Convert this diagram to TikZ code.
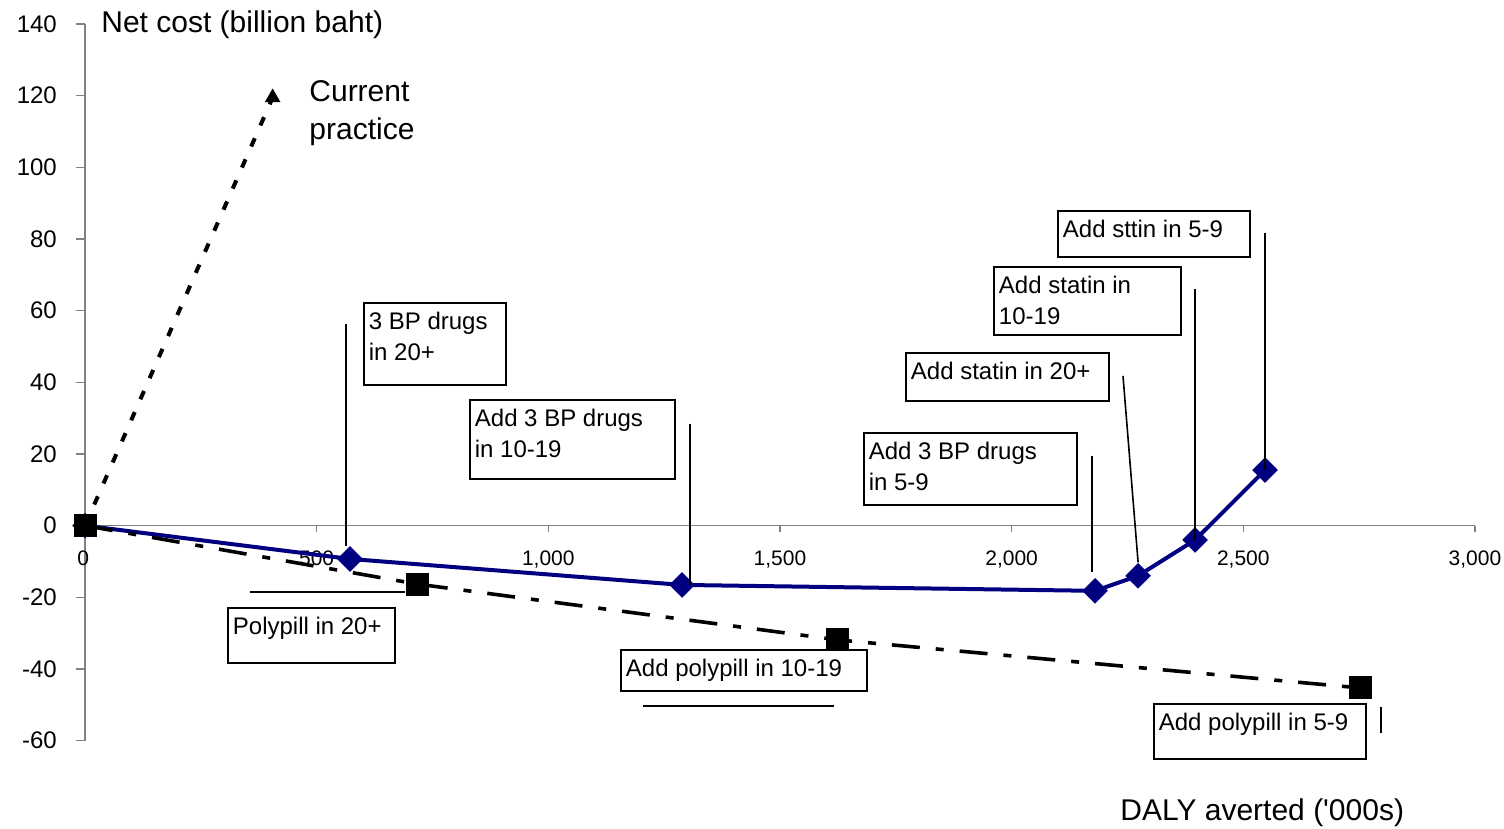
\documentclass[tikz,border=0pt]{standalone}
\usepackage{fontspec}
\setmainfont{Liberation Sans}
\usetikzlibrary{shapes.geometric}
\definecolor{navyline}{RGB}{0,0,128}
\definecolor{axisgray}{RGB}{128,128,128}
\tikzset{
    axisline/.style={draw=axisgray, line width=0.6pt},
    leader/.style={draw=black, line width=0.8pt},
    tagbox/.style={draw=black, line width=0.9pt, anchor=north west, inner xsep=2.5pt, inner ysep=4.5pt, font=\fontsize{12}{15.5}\selectfont},
    bpline/.style={draw=navyline, line width=2pt, line join=round},
    ppline/.style={draw=black, line width=1.8pt, dash pattern=on 14pt off 8pt on 4pt off 8pt},
    curline/.style={draw=black, line width=2pt, dash pattern=on 4.5pt off 7pt},
    bpmark/.style={diamond, fill=navyline, inner sep=0pt, minimum width=13pt, minimum height=13pt},
    ppmark/.style={rectangle, fill=black, inner sep=0pt, minimum size=11.5pt},
    curmark/.style={regular polygon, regular polygon sides=3, fill=black, inner sep=0pt, minimum size=9pt},
    yticklabel/.style={inner sep=0pt, anchor=east, font=\fontsize{12}{14}\selectfont},
    xticklabel/.style={inner sep=0pt, anchor=base, font=\fontsize{10.5}{12}\selectfont},
    axistitle/.style={inner sep=0pt, align=left, font=\fontsize{15}{19}\selectfont}
}
\newcommand{\tagtext}[3]{\parbox[t][#2][t]{#1}{#3}}

\begin{document}
\begin{tikzpicture}[x=0.231667pt, y=1.7915pt]
    \useasboundingbox (-183.5,-84.65) rectangle (3062.8,146.72);

    % axes
    \draw [axisline] (0,0) -- (3000,0);
    \draw [axisline] (0,-60) -- (0,140);
    \foreach \v in {-60,-40,...,140} {
        \draw [axisline] (0,\v) -- ++(-4.5pt,0);
        \node [yticklabel] at (-60,\v) {\v};
    }
    \foreach \v/\t in {500/500, 1000/{1,000}, 1500/{1,500}, 2000/{2,000}, 2500/{2,500}, 3000/{3,000}} {
        \draw [axisline] (\v,0) -- ++(0,-3.25pt);
        \node [xticklabel] at (\v,-11.25) {\t};
    }
    \node [xticklabel] (XZero) at (-4,-11.25) {0};

    % data points
    \coordinate (Bp0) at (0,0);
    \coordinate (Bp1) at (572,-9.3);
    \coordinate (Bp2) at (1288.6,-16.55);
    \coordinate (Bp3) at (2180,-18.2);
    \coordinate (Bp4) at (2273,-14);
    \coordinate (Bp5) at (2396,-4);
    \coordinate (Bp6) at (2547,15.5);
    \coordinate (Pp0) at (0,0);
    \coordinate (Pp1) at (716.6,-16.3);
    \coordinate (Pp2) at (1625,-31.9);
    \coordinate (Pp3) at (2752,-45.3);
    \coordinate (Cur0) at (0,0);
    \coordinate (Cur1) at (405,119.5);

    \draw [bpline] (Bp0) -- (Bp1) -- (Bp2) -- (Bp3) -- (Bp4) -- (Bp5) -- (Bp6);
    \foreach \p in {Bp0,Bp1,Bp2,Bp3,Bp4,Bp5,Bp6}
        \node [bpmark] (\p Mark) at (\p) {};

    \draw [ppline] (Pp0) -- (Pp1) -- (Pp2) -- (Pp3);
    \foreach \p in {Pp0,Pp1,Pp2,Pp3}
        \node [ppmark] (\p Mark) at (\p) {};

    \draw [curline] (Cur0) -- (Cur1);
    \node [curmark] (Cur1Mark) at (Cur1) {};

    % leaders
    \coordinate (BpLead20) at (563,56.3);
    \coordinate (BpLead1019) at (1306,28.4);
    \coordinate (BpLead59) at (2173.5,19.5);
    \coordinate (BpLead59End) at (2173.5,-12.9);
    \coordinate (StLead20) at (2240.4,41.8);
    \coordinate (StLead1019) at (2396,66.1);
    \coordinate (StLead59) at (2547,81.7);
    \coordinate (PpLead20) at (356,-18.5);
    \coordinate (PpLead1019) at (1204,-50.3);
    \coordinate (PpLead1019End) at (1616.6,-50.3);
    \coordinate (PpLead59) at (2797.3,-50.6);
    \coordinate (PpLead59End) at (2797.3,-57.9);

    \draw [leader] (BpLead20) -- (BpLead20 |- Bp1Mark.north);
    \draw [leader] (BpLead1019) -- (BpLead1019 |- Bp2Mark.center);
    \draw [leader] (BpLead59) -- (BpLead59End);
    \draw [leader] (StLead20) -- (Bp4Mark.north);
    \draw [leader] (StLead1019) -- (Bp5Mark.center);
    \draw [leader] (StLead59) -- (Bp6Mark.center);
    \draw [leader] (PpLead20) -- (PpLead20 -| Pp1Mark.west);
    \draw [leader] (PpLead1019) -- (PpLead1019End);
    \draw [leader] (PpLead59) -- (PpLead59End);

    % callouts
    \node [tagbox] (BpTag20) at (600,62.4) {\tagtext{66pt}{32pt}{3 BP drugs\\in 20+}};
    \node [tagbox] (BpTag1019) at (828.8,35.4) {\tagtext{97.5pt}{30.5pt}{Add 3 BP drugs\\in 10-19}};
    \node [tagbox] (BpTag59) at (1679,26.2) {\tagtext{101.5pt}{27pt}{Add 3 BP drugs\\in 5-9}};
    \node [tagbox] (StTag20) at (1770,48.5) {\tagtext{96.5pt}{15pt}{Add statin in 20+}};
    \node [tagbox] (StTag1019) at (1960,72.5) {\tagtext{88.5pt}{25pt}{Add statin in\\10-19}};
    \node [tagbox] (StTag59) at (2098,88.1) {\tagtext{91pt}{14pt}{Add sttin in 5-9}};
    \node [tagbox] (PpTag20) at (306.5,-22.7) {\tagtext{78.5pt}{18.5pt}{Polypill in 20+}};
    \node [tagbox] (PpTag1019) at (1154.8,-34.4) {\tagtext{118pt}{11.5pt}{Add polypill in 10-19}};
    \node [tagbox] (PpTag59) at (2305,-49.5) {\tagtext{101pt}{18.5pt}{Add polypill in 5-9}};

    % titles
    \node [axistitle, anchor=base west] (YTitle) at (34.5,137.6) {Net cost (billion baht)};
    \node [axistitle, anchor=base west] (XTitle) at (2234,-82.4) {DALY averted (\textquotesingle 000s)};
    \node [axistitle, anchor=north west] (CurTitle) at (483.5,124.4) {Current\\practice};
\end{tikzpicture}
\end{document}
